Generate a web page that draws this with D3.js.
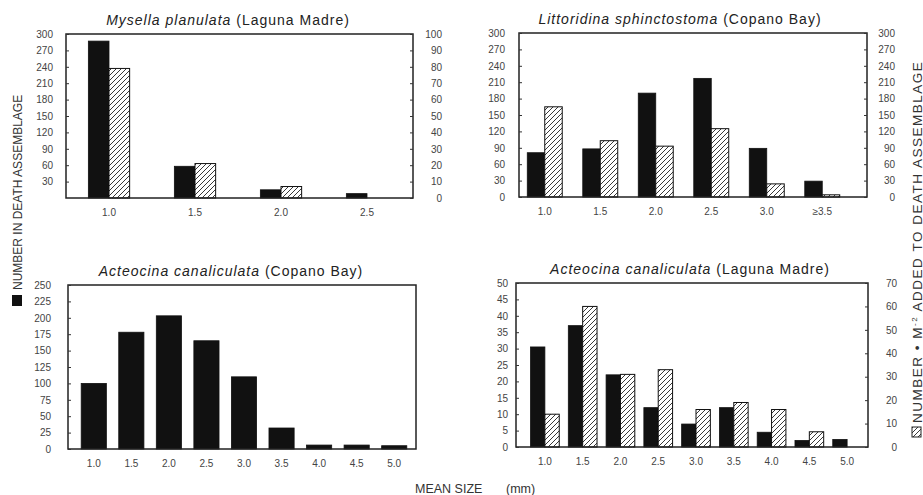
<!DOCTYPE html>
<html>
<head>
<meta charset="utf-8">
<script src="https://cdn.jsdelivr.net/npm/d3@7"></script>
<style>
  body { margin: 0; background: #fff; }
  svg { font-family: "Liberation Sans", Arial, sans-serif; }
</style>
</head>
<body>
<svg id="drawing"></svg>
<script>
// mean size classes (mm)
const sizes_mysella = ["1.0", "1.5", "2.0", "2.5"];
const sizes_littoridina = ["1.0", "1.5", "2.0", "2.5", "3.0", "\u22653.5"];
const sizes_acteocina = ["1.0", "1.5", "2.0", "2.5", "3.0", "3.5", "4.0", "4.5", "5.0"];

// black bars: number in death assemblage (left axis)
const death_mysella = [287, 58, 15, 8];
const death_littoridina = [81, 88, 190, 217, 89, 29];
const death_acteocina_copano = [100, 178, 203, 165, 110, 32, 6, 6, 5];
const death_acteocina_laguna = [30.5, 37, 22, 12, 7, 12, 4.5, 2, 2.3];

// hatched bars: number per m2 added to death assemblage (right axis)
const added_mysella = [79, 21, 7, 0];
const added_littoridina = [165, 103, 93, 125, 24, 4];
const added_acteocina_laguna = [14, 60, 31, 33, 16, 19, 16, 6.5, 0];

// tick labels
const ticks_300_no0 = d3.range(30, 301, 30);
const ticks_300 = d3.range(0, 301, 30);
const ticks_100 = d3.range(0, 101, 10);
const ticks_250 = d3.range(0, 251, 25);
const ticks_50 = d3.range(0, 51, 5);
const ticks_70 = d3.range(0, 71, 10);

const svg = d3.select('#drawing')
    .attr('width', 923)
    .attr('height', 495);

const defs = svg.append('defs');
const hatch = defs.append('pattern')
    .attr('id', 'hatch')
    .attr('patternUnits', 'userSpaceOnUse')
    .attr('width', 5)
    .attr('height', 5);
hatch.append('rect').attr('width', 5).attr('height', 5).attr('fill', '#fff');
hatch.append('path')
    .attr('d', 'M-1,1 l2,-2 M0,5 l5,-5 M4,6 l2,-2')
    .attr('stroke', '#222')
    .attr('stroke-width', 0.9);

class BarPanel {
    constructor(config, data) {
        this.config = config;
        this.data = data;
        this.init();
        this.render();
    }

    init() {
        let self = this;
        const c = self.config;
        self.g = svg.append('g');

        self.xscale = d3.scaleBand()
            .domain(self.data.sizes)
            .range(c.band);

        self.yleft = d3.scaleLinear()
            .domain([0, c.leftMax])
            .range([c.y + c.h, c.y]);

        if (c.rightMax) {
            self.yright = d3.scaleLinear()
                .domain([0, c.rightMax])
                .range([c.y + c.h, c.y]);
        }
    }

    render() {
        let self = this;
        const c = self.config;
        const bw = self.xscale.bandwidth();
        const pair = self.data.added ? 2 : 1;
        const barW = bw * c.fill / pair;

        // black bars
        self.g.append('g').selectAll('rect')
            .data(self.data.death.map((d, i) => ({v: d, s: self.data.sizes[i]})))
            .join('rect')
            .attr('x', d => self.xscale(d.s) + bw / 2 - barW * pair / 2)
            .attr('y', d => self.yleft(d.v))
            .attr('width', barW)
            .attr('height', d => self.yleft(0) - self.yleft(d.v))
            .attr('fill', '#111')
            .attr('stroke', '#111')
            .attr('stroke-width', 0.8);

        // hatched bars
        if (self.data.added) {
            self.g.append('g').selectAll('rect')
                .data(self.data.added.map((d, i) => ({v: d, s: self.data.sizes[i]})).filter(d => d.v > 0))
                .join('rect')
                .attr('x', d => self.xscale(d.s) + bw / 2)
                .attr('y', d => self.yright(d.v))
                .attr('width', barW)
                .attr('height', d => self.yright(0) - self.yright(d.v))
                .attr('fill', 'url(#hatch)')
                .attr('stroke', '#111')
                .attr('stroke-width', 1);
        }

        // frame
        self.g.append('rect')
            .attr('x', c.x)
            .attr('y', c.y)
            .attr('width', c.w)
            .attr('height', c.h)
            .attr('fill', 'none')
            .attr('stroke', '#222')
            .attr('stroke-width', 1.5);

        const left = d3.axisLeft(self.yleft)
            .tickValues(c.leftTicks)
            .tickSize(-3)
            .tickPadding(c.padL);
        self.g.append('g')
            .attr('transform', `translate(${c.x}, 0)`)
            .call(left)
            .call(a => a.select('.domain').remove())
            .call(a => a.selectAll('line').attr('stroke', '#333'))
            .call(a => a.selectAll('text').attr('fill', '#444').attr('font-size', '10px'));

        if (self.yright) {
            const right = d3.axisRight(self.yright)
                .tickValues(c.rightTicks)
                .tickSize(-3);
            self.g.append('g')
                .attr('transform', `translate(${c.x + c.w}, 0)`)
                .call(right)
                .call(a => a.select('.domain').remove())
                .call(a => a.selectAll('line').attr('stroke', '#333'))
                .call(a => a.selectAll('text')
                    .attr('fill', '#444')
                    .attr('font-size', '10px')
                    .attr('text-anchor', 'end')
                    .attr('x', c.padR));
        }

        const bottom = d3.axisBottom(self.xscale)
            .tickSize(0)
            .tickPadding(11);
        self.g.append('g')
            .attr('transform', `translate(0, ${c.y + c.h})`)
            .call(bottom)
            .call(a => a.select('.domain').remove())
            .call(a => a.selectAll('text').attr('fill', '#444').attr('font-size', '10px'));

        const title = self.g.append('text')
            .attr('x', c.titleX)
            .attr('y', c.y - 9)
            .attr('text-anchor', 'middle')
            .attr('font-size', '14px')
            .attr('letter-spacing', '1px')
            .attr('fill', '#222');
        title.append('tspan').attr('font-style', 'italic').text(c.species);
        title.append('tspan').text(' ' + c.site);
    }
}

new BarPanel({
    x: 66, y: 34, w: 347, h: 164, band: [66, 410], fill: 0.48,
    leftMax: 300, leftTicks: ticks_300_no0, padL: 13,
    rightMax: 100, rightTicks: ticks_100, padR: 29,
    species: 'Mysella planulata', site: '(Laguna Madre)', titleX: 228
}, {sizes: sizes_mysella, death: death_mysella, added: added_mysella});

new BarPanel({
    x: 519, y: 33, w: 348, h: 164, band: [517, 850], fill: 0.63,
    leftMax: 300, leftTicks: ticks_300, padL: 14,
    rightMax: 300, rightTicks: ticks_300, padR: 28,
    species: 'Littoridina sphinctostoma', site: '(Copano Bay)', titleX: 680
}, {sizes: sizes_littoridina, death: death_littoridina, added: added_littoridina});

new BarPanel({
    x: 68, y: 285, w: 348, h: 164, band: [75, 413], fill: 0.67,
    leftMax: 250, leftTicks: ticks_250, padL: 17,
    species: 'Acteocina  canaliculata', site: '(Copano Bay)', titleX: 231
}, {sizes: sizes_acteocina, death: death_acteocina_copano});

new BarPanel({
    x: 516, y: 283, w: 352, h: 164, band: [526, 866], fill: 0.76,
    leftMax: 50, leftTicks: ticks_50, padL: 8,
    rightMax: 70, rightTicks: ticks_70, padR: 29,
    species: 'Acteocina canaliculata', site: '(Laguna Madre)', titleX: 690
}, {sizes: sizes_acteocina, death: death_acteocina_laguna, added: added_acteocina_laguna});

// shared axis titles
svg.append('rect')
    .attr('x', 12).attr('y', 295)
    .attr('width', 10).attr('height', 11)
    .attr('fill', '#111');
svg.append('text')
    .attr('transform', 'translate(21.5, 290) rotate(-90)')
    .attr('font-size', '12px')
    .attr('fill', '#333')
    .text('NUMBER IN DEATH ASSEMBLAGE');

svg.append('rect')
    .attr('x', 912).attr('y', 427)
    .attr('width', 9).attr('height', 10)
    .attr('fill', 'url(#hatch)')
    .attr('stroke', '#222')
    .attr('stroke-width', 1);
const rtitle = svg.append('text')
    .attr('transform', 'translate(921.5, 423) rotate(-90)')
    .attr('font-size', '13.5px')
    .attr('letter-spacing', '1.5px')
    .attr('fill', '#333');
rtitle.append('tspan').text('NUMBER \u2022 M');
rtitle.append('tspan').attr('font-size', '8px').attr('dy', -5).text('-2');
rtitle.append('tspan').attr('dy', 5).text(' ADDED TO DEATH ASSEMBLAGE');

const xtitle = svg.append('text')
    .attr('x', 415)
    .attr('y', 493)
    .attr('font-size', '12.5px')
    .attr('fill', '#333');
xtitle.append('tspan').text('MEAN SIZE');
xtitle.append('tspan').attr('x', 506).text('(mm)');
</script>
</body>
</html>
